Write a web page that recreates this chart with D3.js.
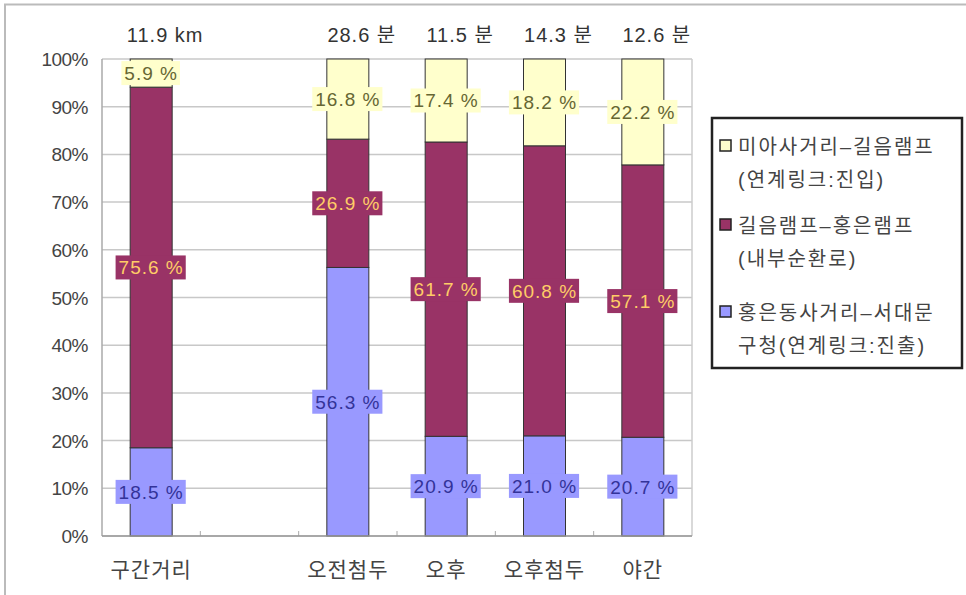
<!DOCTYPE html>
<html>
<head>
<meta charset="utf-8">
<script src="https://cdn.jsdelivr.net/npm/d3@7"></script>
<style>
  body { margin: 0; background: #fff; }
  svg text { font-family: "Liberation Sans", "Noto Sans CJK KR", sans-serif; }
</style>
</head>
<body>
<div id="chart"></div>
<script>
// categories (the second slot is an empty gap in the original)
const categories = ["구간거리", "gap", "오전첨두", "오후", "오후첨두", "야간"];
const catLabels = ["구간거리", "", "오전첨두", "오후", "오후첨두", "야간"];
const topLabels = ["11.9 km", "", "28.6 분", "11.5 분", "14.3 분", "12.6 분"];

// series, bottom to top
const seriesNames = ["out", "inner", "in"];
const outValues = [18.5, null, 56.3, 20.9, 21.0, 20.7];   // 홍은동사거리-서대문구청
const innerValues = [75.6, null, 26.9, 61.7, 60.8, 57.1]; // 길음램프-홍은램프
const inValues = [5.9, null, 16.8, 17.4, 18.2, 22.2];     // 미아사거리-길음램프

const yTicks = [0, 10, 20, 30, 40, 50, 60, 70, 80, 90, 100];

const legendItems = [
  { key: "in", lines: ["미아사거리–길음램프", "(연계링크:진입)"] },
  { key: "inner", lines: ["길음램프–홍은램프", "(내부순환로)"] },
  { key: "out", lines: ["홍은동사거리–서대문", "구청(연계링크:진출)"] }
];

const fills = { out: "#9999ff", inner: "#993366", in: "#ffffcc" };
const textColors = { out: "#333399", inner: "#ffcc66", in: "#666633" };

const w = 966, h = 595;
const margins = { top: 59, left: 102, right: 274, bottom: 59 };
const innerWidth = w - margins.left - margins.right;
const innerHeight = h - margins.top - margins.bottom;

const rows = categories.map((c, i) => ({
  cat: c,
  out: outValues[i] || 0,
  inner: innerValues[i] || 0,
  in: inValues[i] || 0,
  has: outValues[i] != null
}));

const stacked = d3.stack().keys(seriesNames)(rows);

const xScale = d3.scaleBand().domain(categories).range([0, innerWidth]);
const yScale = d3.scaleLinear().domain([0, 100]).range([innerHeight, 0]);
const barW = 42;

const svg = d3.select("#chart").append("svg")
  .attr("width", w).attr("height", h);

// outer frame (top and left edge only visible)
svg.append("path")
  .attr("d", `M5,${h} V4.5 H${w}`)
  .attr("fill", "none")
  .attr("stroke", "#bbb")
  .attr("stroke-width", 2);

const g = svg.append("g")
  .attr("transform", `translate(${margins.left},${margins.top})`);

// gridlines
g.selectAll(".grid").data(yTicks).enter().append("line")
  .attr("x1", 0).attr("x2", innerWidth)
  .attr("y1", d => yScale(d)).attr("y2", d => yScale(d))
  .attr("stroke", "#c8c8c8").attr("stroke-width", 1.5);

// plot border left/right
g.append("line").attr("x1", 0).attr("x2", 0).attr("y1", 0).attr("y2", innerHeight)
  .attr("stroke", "#aaa").attr("stroke-width", 1.5);
g.append("line").attr("x1", innerWidth).attr("x2", innerWidth).attr("y1", 0).attr("y2", innerHeight)
  .attr("stroke", "#ccc").attr("stroke-width", 1.5);

// y tick labels
g.selectAll(".ylab").data(yTicks).enter().append("text")
  .attr("x", -14).attr("y", d => yScale(d) + 7)
  .attr("text-anchor", "end")
  .attr("font-size", "19px")
  .attr("fill", "#444")
  .attr("letter-spacing", "-0.5")
  .text(d => d + "%");

// x axis ticks at band boundaries
g.selectAll(".xtick").data(categories.slice(1)).enter().append("line")
  .attr("x1", d => xScale(d)).attr("x2", d => xScale(d))
  .attr("y1", innerHeight - 5).attr("y2", innerHeight)
  .attr("stroke", "#aaa");

// bars
const layers = g.selectAll(".layer").data(stacked).enter().append("g");
layers.selectAll("rect").data(s => s.map(d => ({ key: s.key, d })).filter(e => e.d.data.has))
  .enter().append("rect")
  .attr("x", e => xScale(e.d.data.cat) + xScale.bandwidth() / 2 - barW / 2)
  .attr("y", e => yScale(e.d[1]))
  .attr("width", barW)
  .attr("height", e => yScale(e.d[0]) - yScale(e.d[1]))
  .attr("fill", e => fills[e.key])
  .attr("stroke", "#333")
  .attr("stroke-width", 1);

// x axis line
g.append("line").attr("x1", 0).attr("x2", innerWidth)
  .attr("y1", innerHeight).attr("y2", innerHeight)
  .attr("stroke", "#999").attr("stroke-width", 1.5);

// value labels with boxes
const labels = [];
stacked.forEach(s => s.forEach(d => {
  if (d.data.has) labels.push({ key: s.key, d, v: d.data[s.key] });
}));
const lab = g.selectAll(".vlab").data(labels).enter().append("g")
  .attr("transform", e => `translate(${xScale(e.d.data.cat) + xScale.bandwidth() / 2},${yScale((e.d[0] + e.d[1]) / 2)})`);
lab.append("rect")
  .attr("fill", e => fills[e.key]);
const labText = lab.append("text")
  .attr("text-anchor", "middle").attr("y", 7)
  .attr("font-size", "19px")
  .attr("letter-spacing", "1")
  .attr("fill", e => textColors[e.key])
  .text(e => e.v.toFixed(1) + " %");
labText.each(function () {
  const b = this.getBBox();
  d3.select(this.previousSibling)
    .attr("x", b.x - 3).attr("y", -12)
    .attr("width", b.width + 5).attr("height", 24);
});

// category labels
g.selectAll(".xlab").data(categories).enter().append("text")
  .attr("x", (d) => xScale(d) + xScale.bandwidth() / 2)
  .attr("y", innerHeight + 41)
  .attr("text-anchor", "middle")
  .attr("font-size", "21px")
  .attr("letter-spacing", "1")
  .attr("fill", "#444")
  .text((d, i) => catLabels[i]);

// top labels
g.selectAll(".tlab").data(categories).enter().append("text")
  .attr("x", d => xScale(d) + xScale.bandwidth() / 2 + 14)
  .attr("y", -17)
  .attr("text-anchor", "middle")
  .attr("font-size", "20px")
  .attr("letter-spacing", "1")
  .attr("fill", "#333")
  .text((d, i) => topLabels[i]);

// legend
const lg = svg.append("g").attr("transform", "translate(712,118)");
lg.append("rect").attr("x", 0).attr("y", 0).attr("width", 250).attr("height", 250)
  .attr("fill", "#fff").attr("stroke", "#222").attr("stroke-width", 2.5);
const item = lg.selectAll(".li").data(legendItems).enter().append("g")
  .attr("transform", (d, i) => `translate(0,${[22, 101, 188][i]})`);
item.append("rect").attr("x", 8).attr("y", 0).attr("width", 11).attr("height", 11)
  .attr("fill", d => fills[d.key]).attr("stroke", "#222").attr("stroke-width", 1.5);
item.selectAll("text").data(d => d.lines).enter().append("text")
  .attr("x", 26)
  .attr("y", (d, i) => 14 + i * 33)
  .attr("font-size", "20px")
  .attr("letter-spacing", "2")
  .attr("fill", "#444")
  .text(d => d);
</script>
</body>
</html>
